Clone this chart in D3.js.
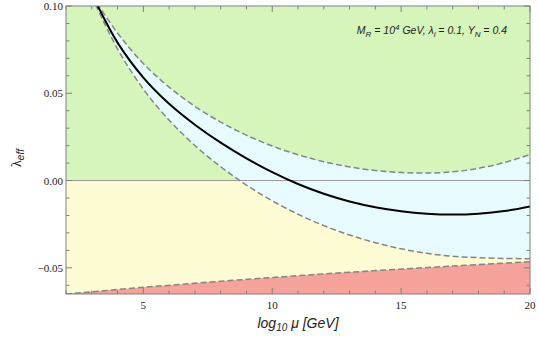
<!DOCTYPE html>
<html><head><meta charset="utf-8">
<script src="https://cdn.jsdelivr.net/npm/d3@7"></script>
<style>body{margin:0;background:#fff}</style>
</head><body>
<svg id="c" width="538" height="344"></svg>
<script>
const logMu = [3,4,5,6,7,8,9,10,11,12,13,14,15,16,17,18,19,20];
const central = [0.107,0.079,0.059,0.044,0.032,0.0217,0.0127,0.0048,-0.002,-0.0076,-0.012,-0.0153,-0.0176,-0.019,-0.0195,-0.019,-0.0175,-0.0148];
const upper = [0.106,0.0845,0.067,0.0535,0.0425,0.0335,0.026,0.0198,0.0148,0.0108,0.0078,0.0058,0.0046,0.0043,0.005,0.007,0.0103,0.0149];
const lower = [0.1054,0.0754,0.0524,0.0346,0.0201,0.0079,-0.0026,-0.0116,-0.0193,-0.0258,-0.0312,-0.0356,-0.0391,-0.0417,-0.0434,-0.0442,-0.0446,-0.0448];
const metaMu = [2,5,8,11,14,17,20];
const metaBound = [-0.065,-0.0612,-0.0577,-0.0545,-0.0516,-0.049,-0.0465];
const xMajor = [5,10,15,20];
const yMajor = [-0.05,0,0.05,0.10];
const yMajorLabels = ["\u22120.05","0.00","0.05","0.10"];

const L=66,R=530,T=6,B=294;
const svg=d3.select("#c");
const x=d3.scaleLinear().domain([2,20]).range([L,R]);
const y=d3.scaleLinear().domain([-0.065,0.10]).range([B,T]);
const cv=d3.curveCatmullRom.alpha(0.5);

svg.append("clipPath").attr("id","clip").append("rect").attr("x",L).attr("y",T).attr("width",R-L).attr("height",B-T);
const g=svg.append("g").attr("clip-path","url(#clip)");

g.append("rect").attr("x",L).attr("y",T).attr("width",R-L).attr("height",y(0)-T).attr("fill","#d5f5ba");
g.append("rect").attr("x",L).attr("y",y(0)).attr("width",R-L).attr("height",B-y(0)).attr("fill","#fdfbd3");

const red=metaMu.map((t,i)=>[t,metaBound[i]]);
g.append("path").datum(red).attr("fill","#f4a29a")
 .attr("d",d3.area().x(d=>x(d[0])).y0(B).y1(d=>y(d[1])).curve(cv));

const band=logMu.map((t,i)=>({t,u:upper[i],l:lower[i],c:central[i]}));
g.append("path").datum(band).attr("fill","#e7fbff")
 .attr("d",d3.area().x(d=>x(d.t)).y0(d=>y(d.l)).y1(d=>y(d.u)).curve(cv));

g.append("line").attr("x1",L).attr("x2",R).attr("y1",y(0)).attr("y2",y(0)).attr("stroke","#9a9a9a").attr("stroke-width",1);

const ln=(acc)=>d3.line().x(d=>x(d.t)).y(acc).curve(cv);
const dashStyle=p=>p.attr("fill","none").attr("stroke","#858585").attr("stroke-width",1.5).attr("stroke-dasharray","6,3");
dashStyle(g.append("path").datum(red)).attr("d",d3.line().x(d=>x(d[0])).y(d=>y(d[1])).curve(cv));
dashStyle(g.append("path").datum(band)).attr("d",ln(d=>y(d.u)));
dashStyle(g.append("path").datum(band)).attr("d",ln(d=>y(d.l)));
g.append("path").datum(band).attr("fill","none").attr("stroke","#000").attr("stroke-width",2).attr("d",ln(d=>y(d.c)));

// frame
svg.append("rect").attr("x",L).attr("y",T).attr("width",R-L).attr("height",B-T).attr("fill","none").attr("stroke","#808080").attr("stroke-width",1);

const tk=svg.append("g").attr("stroke","#808080").attr("stroke-width",1);
d3.range(2,21).forEach(t=>{
  const len=xMajor.includes(t)?6:3.5;
  tk.append("line").attr("x1",x(t)).attr("x2",x(t)).attr("y1",B).attr("y2",B-len);
  tk.append("line").attr("x1",x(t)).attr("x2",x(t)).attr("y1",T).attr("y2",T+len);
});
d3.range(-6,11).forEach(k=>{
  const v=k/100;
  const len=(k%5===0)?6:3.5;
  tk.append("line").attr("y1",y(v)).attr("y2",y(v)).attr("x1",L).attr("x2",L+len);
  tk.append("line").attr("y1",y(v)).attr("y2",y(v)).attr("x1",R).attr("x2",R-len);
});

const serif="'Liberation Serif','DejaVu Serif',serif";
xMajor.forEach(t=>{
  svg.append("text").attr("x",x(t)).attr("y",B+15).attr("text-anchor","middle")
   .attr("font-family",serif).attr("font-size",11).attr("fill","#222").text(String(t));
});
yMajor.forEach((v,i)=>{
  svg.append("text").attr("x",L-3).attr("y",y(v)+4).attr("text-anchor","end")
   .attr("font-family",serif).attr("font-size",11).attr("fill","#222").text(yMajorLabels[i]);
});

const sans="'Liberation Sans',Arial,sans-serif";
const xl=svg.append("text").attr("x",298).attr("y",328).attr("text-anchor","middle")
 .attr("font-family",sans).attr("font-size",14).attr("font-style","italic").attr("fill","#222");
xl.append("tspan").text("log");
xl.append("tspan").attr("font-size",10).attr("dy",3).text("10");
xl.append("tspan").attr("dy",-3).text(" \u03bc  [GeV]");

const yl=svg.append("text").attr("transform","translate(21,158) rotate(-90)").attr("text-anchor","middle")
 .attr("font-family",serif).attr("font-size",14).attr("fill","#222");
yl.append("tspan").text("\u03bb");
yl.append("tspan").attr("font-size",10).attr("dy",3).attr("font-style","italic").attr("font-family",sans).text("eff");

const an=svg.append("text").attr("x",507).attr("y",34).attr("text-anchor","end")
 .attr("font-family",sans).attr("font-size",10.5).attr("font-style","italic").attr("fill","#222");
an.append("tspan").text("M");
an.append("tspan").attr("font-size",8).attr("dy",2.5).text("R");
an.append("tspan").attr("dy",-2.5).text(" = 10");
an.append("tspan").attr("font-size",8).attr("dy",-4).text("4");
an.append("tspan").attr("dy",4).text(" GeV,  \u03bb");
an.append("tspan").attr("font-size",8).attr("dy",2.5).text("i");
an.append("tspan").attr("dy",-2.5).text(" = 0.1,  Y");
an.append("tspan").attr("font-size",8).attr("dy",2.5).text("N");
an.append("tspan").attr("dy",-2.5).text(" = 0.4");
</script>
</body></html>
